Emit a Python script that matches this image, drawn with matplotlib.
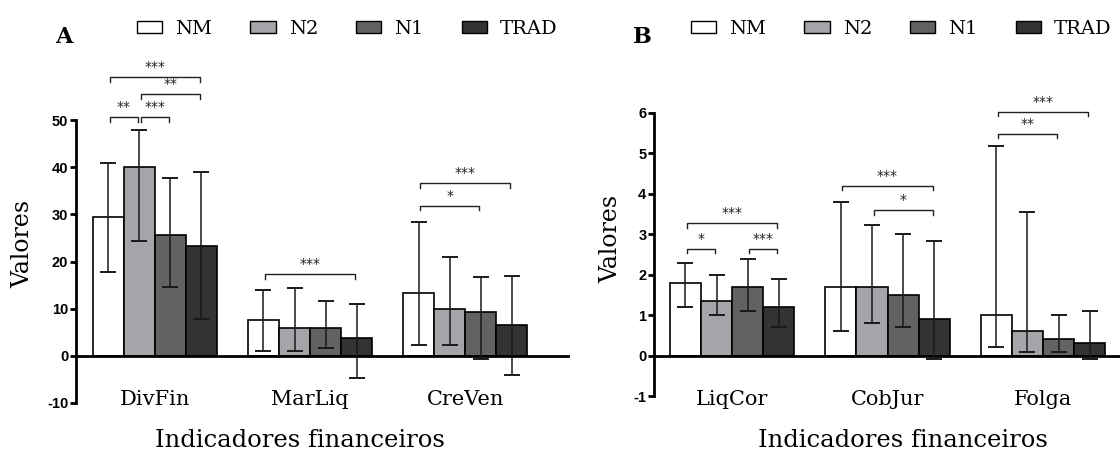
import numpy as np
import matplotlib
matplotlib.use("Agg")
from matplotlib import pyplot as plt
from matplotlib.patches import Patch
from matplotlib.transforms import blended_transform_factory

# series and colours
series = ['NM', 'N2', 'N1', 'TRAD']
colors = ['#ffffff', '#a4a4a9', '#626262', '#333333']

# panel A data (rows = series, cols = indicators)
a_cats = ['DivFin', 'MarLiq', 'CreVen']
a_mean = [[29.4, 7.7, 13.3],
          [40.0, 6.0, 10.0],
          [25.6, 5.8, 9.3],
          [23.3, 3.8, 6.5]]
a_low = [[17.8, 1.1, 2.3],
         [24.4, 1.0, 2.3],
         [14.6, 1.6, -0.6],
         [7.9, -4.6, -4.1]]
a_high = [[40.9, 14.0, 28.4],
          [47.9, 14.4, 21.0],
          [37.7, 11.6, 16.8],
          [39.0, 11.0, 17.0]]
# (group, from series, to series, height, label)
a_sig = [(0, 0, 1, 50.6, '**'), (0, 1, 2, 50.6, '***'), (0, 1, 3, 55.5, '**'),
         (0, 0, 3, 59.1, '***'), (1, 0, 3, 17.3, '***'),
         (2, 0, 3, 36.6, '***'), (2, 0, 2, 31.8, '*')]
a_ticks = [-10, 0, 10, 20, 30, 40, 50]

# panel B data
b_cats = ['LiqCor', 'CobJur', 'Folga']
b_mean = [[1.8, 1.7, 1.0],
          [1.35, 1.7, 0.6],
          [1.7, 1.5, 0.4],
          [1.2, 0.9, 0.3]]
b_low = [[1.2, 0.6, 0.2],
         [1.0, 0.8, 0.1],
         [1.1, 0.7, 0.1],
         [0.7, -0.08, -0.08]]
b_high = [[2.3, 3.8, 5.18],
          [2.0, 3.23, 3.56],
          [2.4, 3.0, 1.0],
          [1.9, 2.83, 1.1]]
b_sig = [(0, 0, 3, 3.27, '***'), (0, 0, 1, 2.64, '*'), (0, 2, 3, 2.64, '***'),
         (1, 0, 3, 4.2, '***'), (1, 1, 3, 3.6, '*'),
         (2, 0, 3, 6.03, '***'), (2, 0, 2, 5.49, '**')]
b_ticks = [-1, 0, 1, 2, 3, 4, 5, 6]

SERIF = 'DejaVu Serif'
SANS = 'Liberation Sans'

fig = plt.figure(figsize=(11.2, 4.55), dpi=100)

w = 0.2
offs = np.array([-1.5, -0.5, 0.5, 1.5]) * w


def panel(rect, xlim, cats, mean, low, high, sig, ticks, letter, letter_x, leg_x, xlab_x):
    ax = fig.add_axes(rect)
    x = np.arange(len(cats))
    for k in range(4):
        m = np.array(mean[k])
        lo = np.array(low[k])
        hi = np.array(high[k])
        ax.bar(x + offs[k], m, width=w, color=colors[k], edgecolor='black',
               linewidth=1.2, zorder=2)
        ax.errorbar(x + offs[k], m, yerr=[m - lo, hi - m], fmt='none',
                    ecolor='#1a1a1a', elinewidth=1.1, capsize=5.8, capthick=1.4, zorder=3)
    ax.set_xlim(*xlim)
    ax.set_ylim(ticks[0], ticks[-1])
    span = ticks[-1] - ticks[0]
    drop = span * 4.5 / 283
    for g, i, j, h, lab in sig:
        x1 = g + offs[i] + 0.01
        x2 = g + offs[j] - 0.01
        ax.plot([x1, x1, x2, x2], [h - drop, h, h, h - drop], color='#222222',
                lw=1.0, clip_on=False, zorder=4)
        ax.text((x1 + x2) / 2, h + span * 3 / 283, lab, ha='center', va='bottom',
                fontsize=10, family='DejaVu Sans', color='#222222', clip_on=False)
    for s in ['top', 'right']:
        ax.spines[s].set_visible(False)
    ax.spines['bottom'].set_position(('data', 0))
    ax.spines['bottom'].set_linewidth(2)
    ax.spines['left'].set_linewidth(2)
    ax.spines['left'].set_bounds(ticks[0], ticks[-1])
    ax.set_yticks(ticks)
    ax.set_yticklabels([str(t) for t in ticks], fontsize=10.5, fontweight='bold', family=SANS)
    ax.tick_params(axis='y', direction='out', length=4.5, width=2, pad=1)
    ax.set_xticks([])
    ax.patch.set_visible(False)
    tr = blended_transform_factory(ax.transData, fig.transFigure)
    for i, c in enumerate(cats):
        ax.text(i, 0.121, c, transform=tr, ha='center', va='center',
                fontsize=15, family=SERIF)
    fig.text(xlab_x, 0.031, 'Indicadores financeiros', ha='center', va='center',
             fontsize=17.5, family=SERIF)
    fig.text(letter_x, 1 - 37 / 455, letter, ha='center', va='center',
             fontsize=16, fontweight='bold', family=SERIF)
    handles = [Patch(facecolor=colors[k], edgecolor='black', linewidth=1.0) for k in range(4)]
    fig.legend(handles, series, ncol=4, loc='center left', bbox_to_anchor=(leg_x, 1 - 29 / 455),
               frameon=False, borderpad=0, borderaxespad=0, handlelength=1.3,
               handleheight=0.6, handletextpad=0.67, columnspacing=1.96,
               prop={'family': SERIF, 'size': 14})
    return ax


axA = panel([76 / 1120, 52 / 455, 492 / 1120, 283 / 455], (-0.508, 2.662),
            a_cats, a_mean, a_low, a_high, a_sig, a_ticks, 'A', 64 / 1120, 137 / 1120, 300 / 1120)
axB = panel([654 / 1120, 59 / 455, 466 / 1120, 283 / 455], (-0.502, 2.495),
            b_cats, b_mean, b_low, b_high, b_sig, b_ticks, 'B', 642 / 1120, 691 / 1120, 903 / 1120)

fig.text(23 / 1120, 1 - 244 / 455, 'Valores', rotation=90, ha='center', va='center',
         fontsize=17, family=SERIF)
fig.text(611 / 1120, 1 - 239 / 455, 'Valores', rotation=90, ha='center', va='center',
         fontsize=17, family=SERIF)

plt.savefig('out.png', dpi=100)
